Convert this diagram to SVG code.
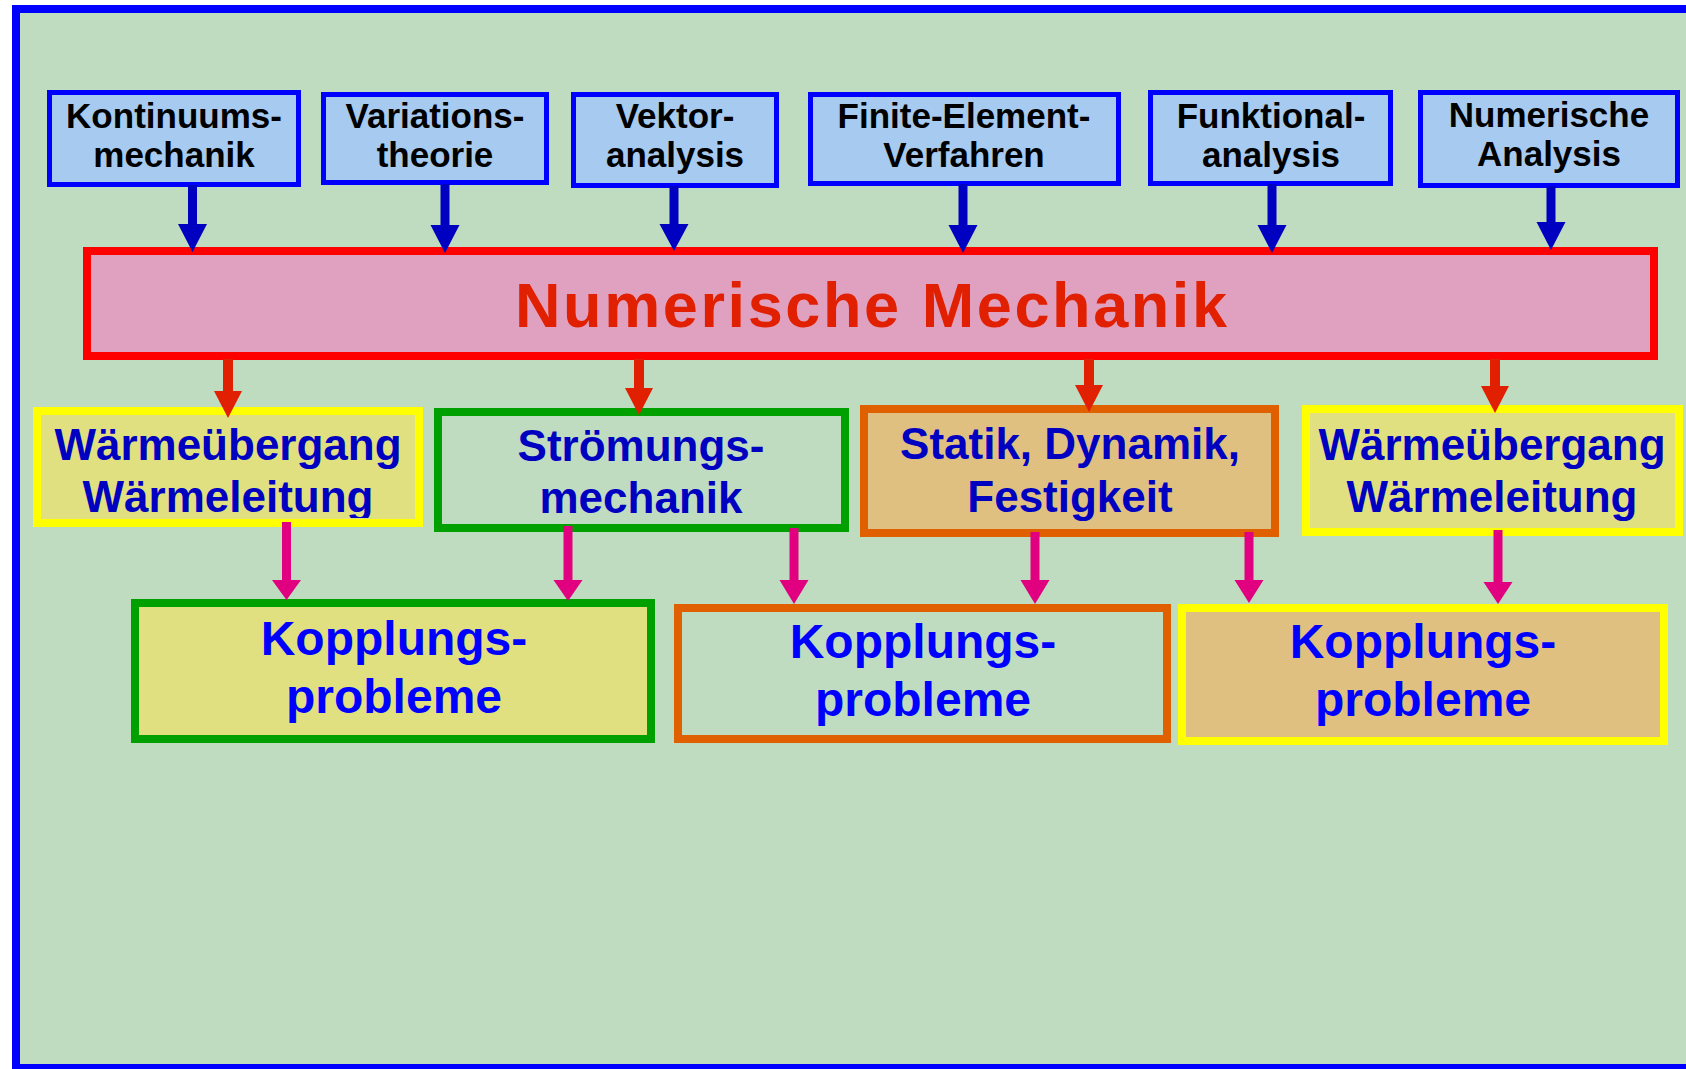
<svg xmlns="http://www.w3.org/2000/svg" width="1686" height="1069" viewBox="0 0 1686 1069">
<style>
  text { font-family: "Liberation Sans", Arial, sans-serif; font-weight: bold; text-anchor: middle; }
  .top rect { fill: #A6CAF0; stroke: #0000FF; stroke-width: 5; }
  .top text { font-size: 35px; fill: #000000; }
  .mid text { font-size: 44px; fill: #0000C0; }
  .bot text { font-size: 48px; fill: #0000FF; }
  .mid rect, .bot rect { stroke-width: 8; }
  .khaki { fill: #E0E080; }
  .tan { fill: #E0C080; }
  .bgfill { fill: #C0DCC0; }
  .sy { stroke: #FFFF00; }
  .sg { stroke: #00A000; }
  .so { stroke: #E06000; }
  .ab { fill: #0000C0; }
  .ar { fill: #E02000; }
  .am { fill: #E00080; }
</style>
<defs>
  <clipPath id="clipA"><rect x="33" y="407" width="390" height="111"/></clipPath>
</defs>
<rect x="0" y="0" width="1686" height="1069" fill="#FFFFFF"/>
<rect id="frame" x="16" y="9" width="1700" height="1059" fill="#C0DCC0" stroke="#0000FF" stroke-width="8"/>

<g id="n-kontinuums" class="top">
  <rect x="49.5" y="92.5" width="249" height="92"/>
  <text x="174" y="128">Kontinuums-</text>
  <text x="174" y="167">mechanik</text>
</g>
<g id="n-variations" class="top">
  <rect x="323.5" y="94.5" width="223" height="88"/>
  <text x="435" y="128">Variations-</text>
  <text x="435" y="167">theorie</text>
</g>
<g id="n-vektor" class="top">
  <rect x="573.5" y="94.5" width="203" height="91"/>
  <text x="675" y="128">Vektor-</text>
  <text x="675" y="167">analysis</text>
</g>
<g id="n-fem" class="top">
  <rect x="810.5" y="94.5" width="308" height="89"/>
  <text x="964" y="128">Finite-Element-</text>
  <text x="964" y="167">Verfahren</text>
</g>
<g id="n-funktional" class="top">
  <rect x="1150.5" y="92.5" width="240" height="91"/>
  <text x="1271" y="128">Funktional-</text>
  <text x="1271" y="167">analysis</text>
</g>
<g id="n-numanalysis" class="top">
  <rect x="1420.5" y="92.5" width="257" height="93"/>
  <text x="1549" y="127">Numerische</text>
  <text x="1549" y="166">Analysis</text>
</g>

<g id="n-nummech">
  <rect x="87" y="251" width="1567" height="105" fill="#E0A0C0" stroke="#FF0000" stroke-width="8"/>
  <text x="871" y="327" font-size="63" fill="#E02000" textLength="712" lengthAdjust="spacing">Numerische Mechanik</text>
</g>

<g id="n-waerme1" class="mid">
  <rect class="khaki sy" x="37" y="411" width="382" height="112"/>
  <g clip-path="url(#clipA)">
    <text x="228" y="460">Wärmeübergang</text>
    <text x="228" y="512">Wärmeleitung</text>
  </g>
</g>
<g id="n-stroemung" class="mid">
  <rect class="bgfill sg" x="438" y="412" width="407" height="116"/>
  <text x="641" y="461">Strömungs-</text>
  <text x="641" y="513">mechanik</text>
</g>
<g id="n-statik" class="mid">
  <rect class="tan so" x="864" y="409" width="411" height="124"/>
  <text x="1070" y="459">Statik, Dynamik,</text>
  <text x="1070" y="512">Festigkeit</text>
</g>
<g id="n-waerme2" class="mid">
  <rect class="khaki sy" x="1306" y="409" width="373" height="123"/>
  <text x="1492" y="460">Wärmeübergang</text>
  <text x="1492" y="512">Wärmeleitung</text>
</g>

<g id="n-kopplung1" class="bot">
  <rect class="khaki sg" x="135" y="603" width="516" height="136"/>
  <text x="394" y="655">Kopplungs-</text>
  <text x="394" y="713">probleme</text>
</g>
<g id="n-kopplung2" class="bot">
  <rect class="bgfill so" x="678" y="608" width="489" height="131"/>
  <text x="923" y="658">Kopplungs-</text>
  <text x="923" y="716">probleme</text>
</g>
<g id="n-kopplung3" class="bot">
  <rect class="tan sy" x="1182" y="608" width="482" height="133"/>
  <text x="1423" y="658">Kopplungs-</text>
  <text x="1423" y="716">probleme</text>
</g>

<g id="connectors">
  <path class="ab" d="M188,185 H197 V224 H207 L192.5,252 L178,224 H188 Z"/>
  <path class="ab" d="M440.5,184 H449.5 V225 H459.5 L445,253 L430.5,225 H440.5 Z"/>
  <path class="ab" d="M669.5,186 H678.5 V224 H688.5 L674,251 L659.5,224 H669.5 Z"/>
  <path class="ab" d="M958.5,184 H967.5 V225 H977.5 L963,253 L948.5,225 H958.5 Z"/>
  <path class="ab" d="M1267.5,184 H1276.5 V225 H1286.5 L1272,253 L1257.5,225 H1267.5 Z"/>
  <path class="ab" d="M1546.5,186 H1555.5 V222 H1565.5 L1551,250 L1536.5,222 H1546.5 Z"/>

  <path class="ar" d="M223,359 H233 V391 H242 L228,418 L214,391 H223 Z"/>
  <path class="ar" d="M634,359 H644 V388 H653 L639,415 L625,388 H634 Z"/>
  <path class="ar" d="M1084,359 H1094 V385 H1103 L1089,412 L1075,385 H1084 Z"/>
  <path class="ar" d="M1490,359 H1500 V386 H1509 L1495,413 L1481,386 H1490 Z"/>

  <path class="am" d="M282,522 H291 V580 H301 L286.5,600 L272,580 H282 Z"/>
  <path class="am" d="M563.5,526 H572.5 V580 H582.5 L568,601 L553.5,580 H563.5 Z"/>
  <path class="am" d="M789.5,528 H798.5 V580 H808.5 L794,604 L779.5,580 H789.5 Z"/>
  <path class="am" d="M1030.5,532 H1039.5 V580 H1049.5 L1035,604 L1020.5,580 H1030.5 Z"/>
  <path class="am" d="M1244.5,532 H1253.5 V580 H1263.5 L1249,603 L1234.5,580 H1244.5 Z"/>
  <path class="am" d="M1493.5,530 H1502.5 V582 H1512.5 L1498,604 L1483.5,582 H1493.5 Z"/>
</g>
</svg>
